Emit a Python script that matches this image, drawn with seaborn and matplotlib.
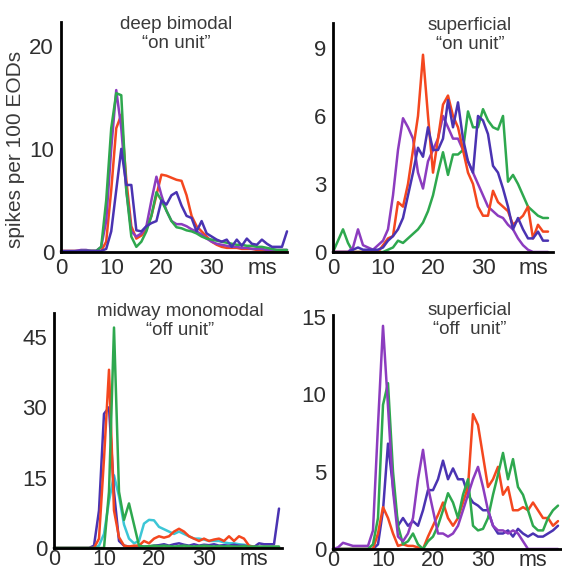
import numpy as np
import pandas as pd
import matplotlib
matplotlib.use("Agg")
import matplotlib.pyplot as plt
import seaborn as sns

# ---------------- data ----------------
t45 = list(range(46))
t43 = list(range(44))

# panel A: deep bimodal "on unit"
a_red = [0.1]*9 + [1, 6, 12, 13.3, 7, 2.5, 1.3, 1.6, 2.2, 3.5, 5.5, 7.5, 7.4, 7.2, 7.0, 6.9, 5.5, 3.5, 2.5,
                   2.0, 1.5, 1.0, 0.7, 0.5, 0.4, 0.4, 0.4, 0.3, 0.3, 0.3, 0.2, 0.2, 0.1, 0.1, 0.1, 0.1, 0.1]
a_purple = [0, 0, 0, 0.1, 0.2, 0.2, 0.1, 0.1, 0.5, 3, 10, 15.7, 12, 6, 2, 1.5, 1.8, 2.5, 5, 7.3, 5.5, 4, 3,
            2.7, 2.7, 2.5, 2.2, 2.0, 1.7, 1.3, 1.0, 0.8, 0.7, 0.6, 0.5, 0.5, 0.4, 0.4, 0.3, 0.3, 0.3,
            0.2, 0.2, 0.2, 0.2, 0.2]
a_green = [0, 0, 0, 0, 0.1, 0.1, 0.1, 0.1, 0.5, 5, 12, 15.4, 15.2, 6, 1.5, 0.5, 1.0, 2.0, 3.5, 5.8, 5.0, 4.0,
           3.0, 2.4, 2.3, 2.1, 2.0, 1.8, 1.5, 1.3, 1.2, 1.1, 1.0, 0.9, 0.8, 0.7, 0.7, 0.6, 0.6, 0.5, 0.5,
           0.4, 0.3, 0.2, 0.2, 0.2]
a_blue = [0.1]*9 + [0.3, 2, 6, 10, 6.5, 6.5, 2.1, 2, 2.5, 2.8, 3, 5, 4.6, 5.5, 5.8, 4.5, 3.5, 3.3, 2.0, 3.0,
                    1.8, 1.5, 1.2, 1.0, 1.2, 0.5, 1.2, 0.6, 1.3, 0.8, 0.7, 1.2, 0.8, 0.5, 0.5, 0.5, 2.0]

# panel B: superficial "on unit"
b_green = [0, 0.5, 1.0, 0.4] + [0]*7 + [0.1, 0.2, 0.5, 0.4, 0.6, 0.8, 1.0, 1.3, 1.8, 2.5, 3.5, 4.4, 3.4, 4.3,
                                        4.3, 4.5, 6.2, 5.5, 5.5, 6.3, 5.8, 5.5, 5.4, 6.0, 3.1, 3.4, 3.0, 2.5,
                                        2.0, 1.8, 1.6, 1.5, 1.5]
b_red = [0]*10 + [0.3, 0.6, 0.7, 2.2, 2.0, 3.0, 4.5, 6.0, 8.7, 6.0, 3.5, 5.0, 6.5, 6.9, 6.0, 5.5, 4.5, 3.5,
                  3.0, 2.0, 1.6, 1.6, 2.7, 2.2, 2.0, 1.8, 1.2, 1.4, 1.6, 2.0, 0.6, 1.2, 0.9, 0.9]
b_purple = [0, 0, 0, 0, 0.2, 1.0, 0.3, 0.2, 0.1, 0.3, 0.5, 1.0, 2.5, 4.5, 5.9, 5.5, 5.0, 3.5, 2.8, 4.0, 4.5,
            5.0, 6.0, 5.5, 5.0, 5.0, 4.5, 4.0, 3.5, 3.0, 2.5, 2.0, 1.8, 1.6, 1.5, 1.2, 1.0, 0.6, 0.3, 0.1,
            0, 0, 0, 0]
b_blue = [0, 0, 0, 0, 0.1, 0.2, 0.1, 0.1, 0.1, 0.1, 0.2, 0.5, 0.7, 1.0, 1.5, 2.5, 3.5, 4.6, 4.2, 5.5, 4.5,
          4.5, 5.0, 6.7, 5.5, 6.6, 5.0, 4.0, 3.5, 6.0, 5.8, 5.2, 3.8, 3.5, 2.8, 2.0, 1.0, 1.5, 1.0, 0.6,
          0.6, 0.9, 0.5, 0.5]

# panel C: midway monomodal "off unit"
c_blue = [0]*8 + [0.5, 8, 28.6, 30, 12, 1.5, 0.5, 0.3, 0.3, 0.3, 0.3, 0.3, 0.5, 0.6, 0.8, 0.5, 0.8, 1.0,
                  0.7, 0.5, 0.8, 0.5, 0.7, 0.6, 0.8, 0.5, 0.6, 0.5, 0.7, 0.5, 0.5, 0.3, 0.2, 1.0, 0.8, 0.8,
                  0.8, 8.4]
c_red = [0]*9 + [2, 19, 38, 8, 2.3, 0.5, 0.3, 0.5, 0.5, 1.5, 1.0, 2.0, 2.5, 2.2, 2.5, 3.5, 4.1, 3.5, 2.5,
                 2.0, 1.5, 2.0, 1.5, 1.8, 2.0, 1.5, 2.5, 1.5, 2.5, 2.0, 0.5, 0.2, 0.2, 0.2, 0.2, 0.2, 0.2]
c_green = [0]*11 + [12, 47, 12, 6, 9.5, 5, 0.5, 0.3, 0.4, 0.5, 0.4, 0.5, 0.4, 0.3, 0.4, 0.5, 0.4, 0.3, 0.4,
                    0.5, 0.4, 0.3, 0.4, 0.3, 0.4, 0.3, 0.3, 0.4, 0.3, 0.3, 0.3, 0.3, 0.3, 0.3, 0.3]
c_cyan = [0]*9 + [0.5, 3, 10, 15.5, 11, 5, 2, 1, 1.5, 5.2, 6, 5.9, 4.5, 4.0, 3.5, 3.0, 3.5, 3.0, 2.5, 2.0,
                  2.0, 1.8, 1.5, 1.5, 1.5, 1.2, 1.0, 1.0, 0.8, 0.7, 0.5, 0.3, 0.2, 0.2, 0.2, 0.2, 0.2]

# panel D: superficial "off unit"
d_purple = [0, 0.1, 0.4, 0.3, 0.2, 0.2, 0.2, 0.2, 1.2, 8, 14.4, 9.2, 3.8, 0.8, 0.5, 1.0, 2.0, 4.5, 6.4, 4.0,
            2.5, 1.0, 1.0, 0.8, 1.0, 1.5, 2.5, 3.5, 4.5, 5.3, 4.0, 2.5, 1.5, 1.2, 1.2, 1.0, 1.2, 1.0, 0.5,
            0, 0, 0, 0, 0, 0, 0]
d_green = [0]*8 + [0.3, 2, 9.3, 10.7, 5, 1.5, 0.3, 0.5, 1.0, 0.3, 0, 0.5, 0.8, 1.5, 2.5, 3.6, 3.0, 2.0, 3.5,
                   4.5, 1.5, 1.2, 1.3, 2.0, 3.5, 4.8, 6.2, 4.5, 5.8, 4.0, 3.5, 2.5, 1.5, 1.2, 1.2, 2.0, 2.5,
                   2.8]
d_blue = [0]*9 + [0.3, 2.5, 6.8, 4, 1.5, 2, 1.5, 1.8, 1.5, 2.5, 3.8, 3.8, 4.5, 5.7, 4.5, 5.2, 4.5, 4.5, 3.5,
                  3.0, 2.8, 2.5, 2.5, 1.5, 1.0, 1.0, 1.2, 0.8, 1.3, 1.0, 0.8, 1.0, 0.8, 0.8, 1.0, 1.2, 1.5]
d_red = [0]*9 + [1.0, 2.7, 2.0, 1.0, 0.2, 0.3, 0.2, 0.2, 0.1, 0, 0.8, 1.5, 2.2, 3.0, 2.0, 1.5, 2.0, 3.0, 4.0,
                 8.7, 8.0, 6.0, 4.0, 4.5, 5.3, 3.5, 4.0, 2.5, 2.5, 2.7, 2.5, 3.0, 2.5, 2.0, 2.0, 1.5, 1.8]

titles = ["deep bimodal\n\u201con unit\u201d", "superficial\n\u201con unit\u201d",
          "midway monomodal\n\u201coff unit\u201d", "superficial\n\u201coff  unit\u201d"]
x_ticks = [0, 10, 20, 30, 40]
x_ticklabels = ["0", "10", "20", "30", "ms"]
y_label = "spikes per 100 EODs"

RED, GREEN, VIOLET, INDIGO, CYAN = "#f4471f", "#2ea84e", "#8c3cbf", "#4a33b2", "#3cc6d6"

panels = [
    dict(t=t45, series=[("red", a_red, RED), ("purple", a_purple, VIOLET), ("green", a_green, GREEN),
                        ("blue", a_blue, INDIGO)],
         rect=[61, 22, 287, 252], xlim=45, ylim=22.3, yticks=[0, 10, 20], xpad=4, xsize=16),
    dict(t=t43, series=[("green", b_green, GREEN), ("purple", b_purple, VIOLET), ("red", b_red, RED),
                        ("blue", b_blue, INDIGO)],
         rect=[333, 23, 553, 252], xlim=44, ylim=10.1, yticks=[0, 3, 6, 9], xpad=4, xsize=16),
    dict(t=t45, series=[("cyan", c_cyan, CYAN), ("blue", c_blue, INDIGO), ("red", c_red, RED),
                        ("green", c_green, GREEN)],
         rect=[54, 313, 282, 548], xlim=45.6, ylim=50.1, yticks=[0, 15, 30, 45], xpad=0.5, xsize=15.5),
    dict(t=t45, series=[("blue", d_blue, INDIGO), ("red", d_red, RED), ("green", d_green, GREEN),
                        ("purple", d_purple, VIOLET)],
         rect=[333, 315, 562, 549], xlim=45.8, ylim=15.1, yticks=[0, 5, 10, 15], xpad=0.5, xsize=15.5),
]
title_pos = [(176, 34), (470, 35), (180, 321), (470, 320)]

sns.set_style("white")
plt.rcParams["font.family"] = ["Liberation Sans", "DejaVu Sans"]

W, H = 562, 573
fig = plt.figure(figsize=(W / 100, H / 100), dpi=100)
fig.patch.set_facecolor("white")

for p, ttl, tp in zip(panels, titles, title_pos):
    l, t, r, b = p["rect"]
    ax = fig.add_axes([l / W, 1 - b / H, (r - l) / W, (b - t) / H])
    ax.set_facecolor("none")
    frames = []
    for name, vals, col in p["series"]:
        frames.append(pd.DataFrame({"ms": p["t"], "rate": vals, "unit": name}))
    df = pd.concat(frames, ignore_index=True)
    pal = {name: col for name, _, col in p["series"]}
    sns.lineplot(data=df, x="ms", y="rate", hue="unit", palette=pal, hue_order=[s[0] for s in p["series"]],
                 legend=False, ax=ax, linewidth=1.8, clip_on=False)
    ax.set_xlim(0, p["xlim"])
    ax.set_ylim(0, p["ylim"])
    ax.set_xticks(x_ticks)
    ax.set_xticklabels(x_ticklabels)
    ax.set_yticks(p["yticks"])
    ax.set_yticklabels([str(v) for v in p["yticks"]])
    ax.set_xlabel("")
    ax.set_ylabel("")
    for s in ["top", "right"]:
        ax.spines[s].set_visible(False)
    for s in ["left", "bottom"]:
        ax.spines[s].set_color("black")
        ax.spines[s].set_linewidth(2.0)
    ax.tick_params(axis="y", direction="out", length=5, width=2, color="black",
                   labelsize=16, labelcolor="#2e2e2e", pad=0)
    ax.tick_params(axis="x", direction="in", length=5, width=1.5, color="black",
                   labelsize=p["xsize"], labelcolor="#2e2e2e", pad=p["xpad"])
    fig.text(tp[0] / W, 1 - tp[1] / H, ttl, ha="center", va="center", fontsize=13.5,
             color="#3a3a3a", linespacing=1.1)

fig.text(16 / W, 1 - 149 / H, y_label, rotation=90, ha="center", va="center",
         fontsize=15, color="#3a3a3a")

fig.savefig("out.png", dpi=100, facecolor="white")
